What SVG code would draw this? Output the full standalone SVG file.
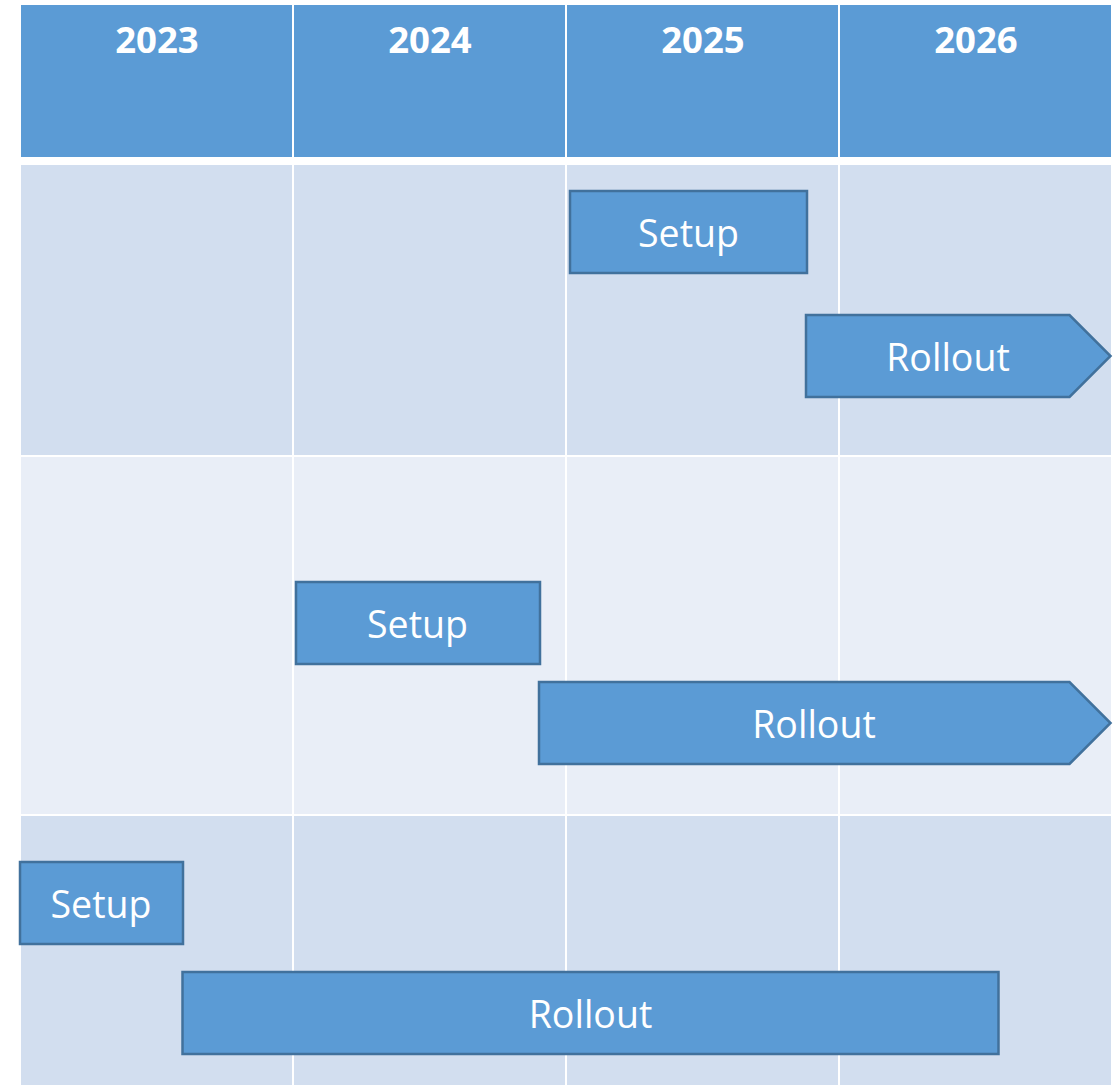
<svg xmlns="http://www.w3.org/2000/svg" width="1119" height="1085" viewBox="0 0 1119 1085">
<style>
.hdr{fill:#5B9BD5}
.rowA{fill:#D2DEEF}
.rowB{fill:#E9EEF7}
.bar{fill:#5B9BD5;stroke:#41719C;stroke-width:2.5}
.yr{font-family:"Open Sans","DejaVu Sans",sans-serif;font-weight:bold;font-size:36.5px;fill:#FFFFFF;text-anchor:middle}
.lbl{font-family:"Open Sans","DejaVu Sans",sans-serif;font-size:37.5px;fill:#FFFFFF;text-anchor:middle}
</style>
<rect width="1119" height="1085" fill="#FFFFFF"/>
<g id="table">
  <g id="header">
    <rect class="hdr" x="21" y="5" width="271" height="152"/>
    <rect class="hdr" x="294" y="5" width="271" height="152"/>
    <rect class="hdr" x="567" y="5" width="271" height="152"/>
    <rect class="hdr" x="840" y="5" width="271" height="152"/>
    <text class="yr" x="157" y="53">2023</text>
    <text class="yr" x="430" y="53">2024</text>
    <text class="yr" x="703" y="53">2025</text>
    <text class="yr" x="976" y="53">2026</text>
  </g>
  <g id="row1">
    <rect class="rowA" x="21" y="165" width="271" height="290"/>
    <rect class="rowA" x="294" y="165" width="271" height="290"/>
    <rect class="rowA" x="567" y="165" width="271" height="290"/>
    <rect class="rowA" x="840" y="165" width="271" height="290"/>
  </g>
  <g id="row2">
    <rect class="rowB" x="21" y="457" width="271" height="357"/>
    <rect class="rowB" x="294" y="457" width="271" height="357"/>
    <rect class="rowB" x="567" y="457" width="271" height="357"/>
    <rect class="rowB" x="840" y="457" width="271" height="357"/>
  </g>
  <g id="row3">
    <rect class="rowA" x="21" y="816" width="271" height="269"/>
    <rect class="rowA" x="294" y="816" width="271" height="269"/>
    <rect class="rowA" x="567" y="816" width="271" height="269"/>
    <rect class="rowA" x="840" y="816" width="271" height="269"/>
  </g>
</g>
<g id="setup1">
  <rect class="bar" x="570" y="191" width="237" height="82"/>
  <text class="lbl" x="688.5" y="247">Setup</text>
</g>
<g id="rollout1">
  <polygon class="bar" points="806,315 1069.5,315 1110.5,356 1069.5,397 806,397"/>
  <text class="lbl" x="948" y="371">Rollout</text>
</g>
<g id="setup2">
  <rect class="bar" x="296" y="582" width="244" height="82"/>
  <text class="lbl" x="417.5" y="638">Setup</text>
</g>
<g id="rollout2">
  <polygon class="bar" points="539,682 1069.5,682 1110.5,723 1069.5,764 539,764"/>
  <text class="lbl" x="814" y="738">Rollout</text>
</g>
<g id="setup3">
  <rect class="bar" x="20" y="862" width="163" height="82"/>
  <text class="lbl" x="101" y="918">Setup</text>
</g>
<g id="rollout3">
  <rect class="bar" x="182.5" y="972" width="816" height="82"/>
  <text class="lbl" x="590.5" y="1028">Rollout</text>
</g>
</svg>
